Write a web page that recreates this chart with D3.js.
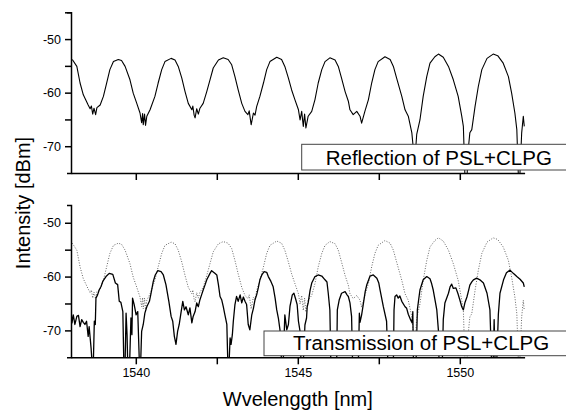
<!DOCTYPE html>
<html>
<head>
<meta charset="utf-8">
<script src="https://cdnjs.cloudflare.com/ajax/libs/d3/7.8.5/d3.min.js"></script>
<style>
  body { margin: 0; background: #fff; }
  svg { display: block; font-family: "Liberation Sans", Arial, sans-serif; }
</style>
</head>
<body>
<script>
// reflection spectrum of PSL+CLPG [wavelength nm, dBm]
const reflection = [
  [1538.04, -53.8], [1538.18, -55.1], [1538.28, -58.2], [1538.38, -60.4], [1538.53, -62.3],
  [1538.59, -63.0], [1538.63, -62.5], [1538.67, -64.0], [1538.71, -62.9], [1538.76, -64.1],
  [1538.80, -62.8], [1538.90, -62.3], [1539.00, -60.7], [1539.10, -58.2], [1539.20, -55.7],
  [1539.31, -54.2], [1539.46, -53.8], [1539.56, -54.0], [1539.67, -55.1], [1539.82, -57.6],
  [1539.92, -60.1], [1540.03, -62.0], [1540.13, -63.8], [1540.18, -65.6], [1540.21, -63.9],
  [1540.23, -66.0], [1540.27, -64.0], [1540.30, -66.1], [1540.34, -64.4], [1540.44, -63.2],
  [1540.59, -60.7], [1540.69, -58.2], [1540.80, -55.7], [1540.90, -54.2], [1541.09, -53.6],
  [1541.21, -53.9], [1541.31, -55.1], [1541.42, -57.3], [1541.52, -59.8], [1541.62, -62.0],
  [1541.73, -63.2], [1541.76, -62.5], [1541.80, -64.2], [1541.83, -64.7], [1541.88, -63.0],
  [1541.93, -64.0], [1541.98, -62.9], [1542.08, -62.0], [1542.19, -59.8], [1542.29, -57.6],
  [1542.39, -55.4], [1542.55, -53.9], [1542.70, -53.5], [1542.85, -53.8], [1542.96, -54.8],
  [1543.06, -57.0], [1543.16, -59.5], [1543.27, -62.0], [1543.37, -63.5], [1543.46, -64.1],
  [1543.50, -63.4], [1543.56, -66.0], [1543.63, -63.8], [1543.68, -64.2], [1543.73, -62.6],
  [1543.83, -60.7], [1543.94, -58.2], [1544.04, -55.7], [1544.14, -54.2], [1544.35, -53.4],
  [1544.50, -53.8], [1544.60, -55.1], [1544.71, -57.3], [1544.81, -59.5], [1544.91, -61.3],
  [1545.02, -63.2], [1545.07, -65.1], [1545.12, -63.5], [1545.17, -66.3], [1545.21, -64.0],
  [1545.25, -66.6], [1545.32, -64.4], [1545.43, -63.5], [1545.53, -61.3], [1545.63, -58.2],
  [1545.74, -55.7], [1545.84, -54.2], [1545.99, -53.5], [1546.15, -53.9], [1546.25, -55.1],
  [1546.35, -57.3], [1546.46, -59.8], [1546.56, -61.6], [1546.61, -63.2], [1546.71, -64.1],
  [1546.82, -63.5], [1546.92, -64.4], [1546.97, -65.7], [1547.07, -63.5], [1547.18, -61.3],
  [1547.28, -58.2], [1547.38, -55.7], [1547.48, -54.2], [1547.69, -53.3], [1547.85, -53.8],
  [1547.95, -55.1], [1548.05, -57.3], [1548.21, -60.7], [1548.31, -63.2], [1548.41, -64.4],
  [1548.52, -67.5], [1548.59, -72.0], [1548.62, -72.0], [1548.67, -67.8], [1548.77, -65.1],
  [1548.87, -60.7], [1548.98, -57.0], [1549.08, -54.5], [1549.23, -53.3], [1549.34, -52.8],
  [1549.49, -53.4], [1549.65, -55.1], [1549.80, -57.6], [1549.95, -60.7], [1550.06, -64.4],
  [1550.11, -66.3], [1550.16, -76.0], [1550.22, -76.0], [1550.27, -70.0], [1550.31, -67.5],
  [1550.37, -66.9], [1550.47, -62.6], [1550.57, -58.9], [1550.68, -55.7], [1550.84, -53.6],
  [1551.03, -52.8], [1551.17, -53.1], [1551.34, -54.5], [1551.50, -57.0], [1551.60, -60.1],
  [1551.70, -63.8], [1551.76, -66.9], [1551.81, -76.0], [1551.85, -76.0], [1551.91, -67.5],
  [1551.96, -64.4], [1551.99, -66.3]
];

// transmission spectrum of PSL+CLPG [wavelength nm, dBm]
const transmission = [
  [1538.00, -66.2], [1538.03, -68.6], [1538.07, -67.1], [1538.12, -68.9], [1538.18, -67.4],
  [1538.23, -67.2], [1538.28, -69.3], [1538.33, -68.0], [1538.38, -68.5], [1538.43, -68.9],
  [1538.48, -68.3], [1538.53, -71.1], [1538.56, -69.3], [1538.62, -73.3], [1538.65, -76.0],
  [1538.69, -76.0], [1538.72, -68.3], [1538.75, -68.9], [1538.77, -64.0], [1538.82, -63.4],
  [1538.87, -62.5], [1538.93, -61.8], [1538.98, -60.9], [1539.08, -60.0], [1539.18, -59.4],
  [1539.29, -59.6], [1539.37, -61.2], [1539.44, -61.5], [1539.49, -64.6], [1539.54, -64.8],
  [1539.60, -66.5], [1539.63, -76.0], [1539.67, -76.0], [1539.70, -66.8], [1539.73, -70.8],
  [1539.75, -76.0], [1539.81, -76.0], [1539.85, -67.7], [1539.88, -70.8], [1539.90, -64.0],
  [1539.95, -65.2], [1540.01, -67.1], [1540.06, -66.5], [1540.11, -76.0], [1540.15, -76.0],
  [1540.18, -70.2], [1540.23, -68.9], [1540.28, -66.8], [1540.34, -65.6], [1540.42, -64.6],
  [1540.47, -63.1], [1540.54, -60.9], [1540.60, -59.7], [1540.68, -58.9], [1540.78, -59.1],
  [1540.85, -59.7], [1540.93, -61.5], [1541.02, -64.6], [1541.09, -67.4], [1541.14, -68.3],
  [1541.19, -71.1], [1541.24, -72.6], [1541.29, -70.2], [1541.34, -68.9], [1541.40, -66.5],
  [1541.45, -64.6], [1541.50, -66.2], [1541.55, -65.6], [1541.62, -67.1], [1541.67, -65.8],
  [1541.73, -68.6], [1541.77, -67.4], [1541.83, -66.5], [1541.88, -64.9], [1541.93, -65.6],
  [1541.98, -64.3], [1542.03, -63.4], [1542.08, -62.5], [1542.14, -61.5], [1542.19, -60.6],
  [1542.29, -59.4], [1542.34, -58.9], [1542.44, -59.4], [1542.50, -59.7], [1542.55, -61.5],
  [1542.60, -63.7], [1542.65, -64.3], [1542.70, -65.6], [1542.75, -67.1], [1542.81, -68.9],
  [1542.84, -76.0], [1542.88, -76.0], [1542.91, -71.4], [1542.94, -72.6], [1542.98, -70.8],
  [1543.01, -68.3], [1543.06, -65.2], [1543.11, -63.7], [1543.16, -64.6], [1543.22, -63.4],
  [1543.27, -64.9], [1543.32, -63.8], [1543.37, -64.6], [1543.42, -65.2], [1543.47, -68.9],
  [1543.52, -69.9], [1543.58, -67.1], [1543.63, -65.9], [1543.68, -64.3], [1543.73, -63.4],
  [1543.78, -62.1], [1543.83, -60.6], [1543.89, -59.7], [1543.96, -59.1], [1544.04, -59.2],
  [1544.09, -60.0], [1544.17, -60.9], [1544.24, -61.9], [1544.30, -64.0], [1544.35, -66.2],
  [1544.40, -67.7], [1544.45, -69.9], [1544.50, -76.0], [1544.55, -76.0], [1544.60, -67.1],
  [1544.66, -69.9], [1544.71, -68.9], [1544.76, -65.5], [1544.79, -64.6], [1544.83, -63.4],
  [1544.88, -63.1], [1544.94, -64.3], [1544.98, -65.2], [1545.02, -68.3], [1545.07, -70.2],
  [1545.10, -76.0], [1545.17, -76.0], [1545.22, -69.0], [1545.27, -67.7], [1545.29, -65.6],
  [1545.32, -64.9], [1545.38, -62.5], [1545.43, -61.2], [1545.53, -60.0], [1545.63, -59.7],
  [1545.74, -59.9], [1545.84, -60.6], [1545.90, -61.0], [1545.94, -63.1], [1545.99, -66.2],
  [1546.02, -76.0], [1546.20, -76.0], [1546.22, -66.2], [1546.28, -64.3], [1546.35, -63.1],
  [1546.46, -62.8], [1546.52, -63.4], [1546.56, -63.7], [1546.61, -64.9], [1546.66, -67.4],
  [1546.69, -76.0], [1546.87, -76.0], [1546.90, -66.8], [1546.92, -68.5], [1546.97, -67.1],
  [1547.02, -65.2], [1547.08, -62.8], [1547.13, -61.5], [1547.23, -59.9], [1547.33, -59.7],
  [1547.44, -60.3], [1547.50, -61.2], [1547.54, -62.5], [1547.64, -65.6], [1547.74, -68.3],
  [1547.78, -76.0], [1547.95, -76.0], [1547.97, -66.2], [1548.00, -63.7], [1548.05, -63.4],
  [1548.10, -64.0], [1548.15, -63.6], [1548.21, -64.6], [1548.31, -65.6], [1548.36, -65.9],
  [1548.41, -67.0], [1548.48, -68.0], [1548.53, -68.6], [1548.55, -66.5], [1548.57, -76.0],
  [1548.65, -76.0], [1548.69, -66.2], [1548.73, -64.3], [1548.77, -62.5], [1548.87, -60.6],
  [1548.98, -60.0], [1549.08, -60.4], [1549.13, -61.3], [1549.18, -62.5], [1549.24, -64.5],
  [1549.29, -66.2], [1549.34, -70.0], [1549.36, -76.0], [1549.46, -76.0], [1549.49, -68.0],
  [1549.54, -64.9], [1549.65, -63.1], [1549.70, -61.9], [1549.75, -61.4], [1549.80, -62.2],
  [1549.88, -62.1], [1549.95, -63.3], [1550.00, -64.3], [1550.06, -65.6], [1550.11, -66.2],
  [1550.16, -64.8], [1550.22, -63.8], [1550.27, -62.6], [1550.31, -61.6], [1550.37, -61.0],
  [1550.42, -60.6], [1550.52, -60.3], [1550.62, -60.6], [1550.73, -61.2], [1550.84, -63.1],
  [1550.93, -66.2], [1550.98, -76.0], [1551.03, -76.0], [1551.06, -68.0], [1551.09, -76.0],
  [1551.14, -76.0], [1551.19, -67.0], [1551.24, -63.1], [1551.35, -60.6], [1551.44, -59.3],
  [1551.55, -58.8], [1551.65, -59.4], [1551.76, -60.0], [1551.86, -60.5], [1551.96, -61.2],
  [1551.99, -61.9]
];

const xMajor = [1540, 1545, 1550];
const xMinor = [1542.5, 1547.5];
const yMajor = [-70, -60, -50];
const yMinor = [-65, -55, -45];
const panelLabels = ['Reflection of PSL+CLPG', 'Transmission of PSL+CLPG'];
const xTitle = 'Wvelenggth [nm]';
const yTitle = 'Intensity [dBm]';

const W = 566, H = 414;
const svg = d3.select('body').append('svg').attr('width', W).attr('height', H);

const x = d3.scaleLinear().domain([1538, 1552]).range([71, 524.6]);

const panels = [
  {
    y: d3.scaleLinear().domain([-75, -45]).range([173, 12.3]),
    series: [{ data: reflection, dotted: false, width: 1.1 }],
    label: panelLabels[0],
    box: { x: 301.7, y: 144.3, h: 25.7, tx: 325.7, ty: 165 },
    tickLabels: false
  },
  {
    y: d3.scaleLinear().domain([-75, -46.7]).range([357.3, 205]),
    series: [
      { data: reflection, dotted: true, width: 1 },
      { data: transmission, dotted: false, width: 1.3 }
    ],
    label: panelLabels[1],
    box: { x: 264, y: 331, h: 24.7, tx: 293, ty: 350 },
    tickLabels: true
  }
];

panels.forEach((p, i) => {
  const [yb, yt] = p.y.range();
  const g = svg.append('g');

  // clip the spectra to the plot frame
  const clipId = 'clip' + i;
  svg.append('clipPath').attr('id', clipId)
    .append('rect')
    .attr('x', x.range()[0]).attr('y', yt)
    .attr('width', x.range()[1] - x.range()[0] + 2)
    .attr('height', yb - yt);

  const line = d3.line().x(d => x(d[0])).y(d => p.y(d[1]));

  p.series.forEach(s => {
    g.append('path')
      .datum(s.data)
      .attr('clip-path', `url(#${clipId})`)
      .attr('fill', 'none')
      .attr('stroke', s.dotted ? '#666' : '#000')
      .attr('stroke-width', s.width)
      .attr('stroke-dasharray', s.dotted ? '1,1.6' : null)
      .attr('stroke-linejoin', 'round')
      .attr('d', line);
  });

  // label box, drawn over the curves
  g.append('rect')
    .attr('x', p.box.x).attr('y', p.box.y)
    .attr('width', W - p.box.x + 10).attr('height', p.box.h)
    .attr('fill', '#fff')
    .attr('stroke', '#444')
    .attr('stroke-width', 1);
  g.append('text')
    .attr('x', p.box.tx).attr('y', p.box.ty)
    .attr('font-size', 20.5)
    .attr('fill', '#000')
    .text(p.label);

  // axes
  const yTicks = yMajor.concat(yMinor).filter(v => v >= p.y.domain()[0] && v <= p.y.domain()[1]);
  const yAxis = d3.axisLeft(p.y)
    .tickValues(yTicks)
    .tickSize(6).tickSizeOuter(4).tickPadding(4)
    .tickFormat(d => yMajor.includes(d) ? String(d) : '');
  const ya = g.append('g').attr('transform', `translate(${x.range()[0]},0)`).call(yAxis);

  const xAxis = d3.axisBottom(x)
    .tickValues(xMajor.concat(xMinor))
    .tickSize(7).tickSizeOuter(0).tickPadding(4)
    .tickFormat(d => (p.tickLabels && xMajor.includes(d)) ? String(d) : '');
  const xa = g.append('g').attr('transform', `translate(0,${yb})`).call(xAxis);

  [ya, xa].forEach(a => {
    a.selectAll('path, line').attr('stroke', '#000').attr('stroke-width', 1.5);
    a.selectAll('text').attr('font-size', 12.5).attr('fill', '#000')
      .attr('font-family', '"Liberation Sans", Arial, sans-serif');
  });
});

svg.append('text')
  .attr('x', x(1545)).attr('y', 406)
  .attr('text-anchor', 'middle')
  .attr('font-size', 20)
  .text(xTitle);

svg.append('text')
  .attr('transform', 'translate(30,203) rotate(-90)')
  .attr('text-anchor', 'middle')
  .attr('font-size', 20)
  .text(yTitle);
</script>
</body>
</html>
